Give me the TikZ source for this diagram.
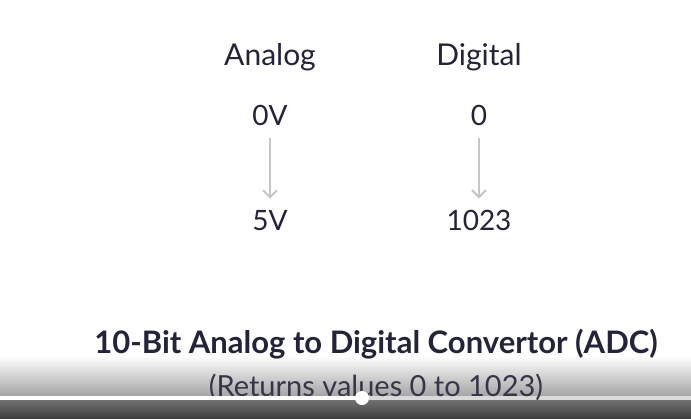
\documentclass[tikz,border=0pt]{standalone}
\usepackage{fontspec}
\setmainfont{Lato}
\usetikzlibrary{arrows.meta}
\definecolor{inktext}{HTML}{23233A}
\definecolor{arrowgray}{HTML}{C6C6C6}
\definecolor{bargray}{HTML}{A4A4A4}
\definecolor{trackgray}{HTML}{D9D9D9}
\definecolor{bottomtop}{HTML}{727272}
\definecolor{bottomlow}{HTML}{3E3E3E}
\begin{document}
\begin{tikzpicture}[
        x=1pt, y=-1pt,
        label/.style={
          anchor=base,
          inner sep=0pt,
          text=inktext,
          font=\fontsize{30}{34}\selectfont
        },
        value/.style={
          label,
          inner sep=2pt,
          font=\fontsize{28}{32}\selectfont
        },
        flow/.style={
          draw=arrowgray,
          line width=2pt,
          -{Straight Barb[length=7pt,width=14pt]},
          shorten <=11pt,
          shorten >=9pt
        }
      ]
      \useasboundingbox (0,0) rectangle (691,418);
      \fill[white] (0,0) rectangle (691,418);

      % player overlay
      \shade[top color=white, bottom color=bargray] (0,356) rectangle (691,396);
      \fill[trackgray] (0,396) rectangle (691,400);
      \shade[top color=bottomtop, bottom color=bottomlow] (0,400) rectangle (691,418);

      \node[label] (analog) at (270,65) {Analog};
      \node[label] (digital) at (479,65) {Digital};
      \node[value] (zerov) at (270,125) {0V};
      \node[value] (fivev) at (270,230) {5V};
      \node[value] (zero) at (479,125) {0};
      \node[value] (top) at (479,230) {1023};

      \draw[flow] (zerov.south) -- (fivev.north);
      \draw[flow] (zero.south) -- (top.north);

      \node[label, font=\fontsize{31}{35}\selectfont\bfseries] (title) at (376,353)
        {10-Bit Analog to Digital Convertor (ADC)};
      \node[label, font=\fontsize{29}{33}\selectfont, text=inktext!80!gray] (range) at (376,396)
        {(Returns values 0 to 1023)};

      % progress bar
      \fill[white] (0,396) rectangle (362,399.5);
      \coordinate (knob) at (362,398);
      \fill[white] (knob) circle (7);
    \end{tikzpicture}
\end{document}
